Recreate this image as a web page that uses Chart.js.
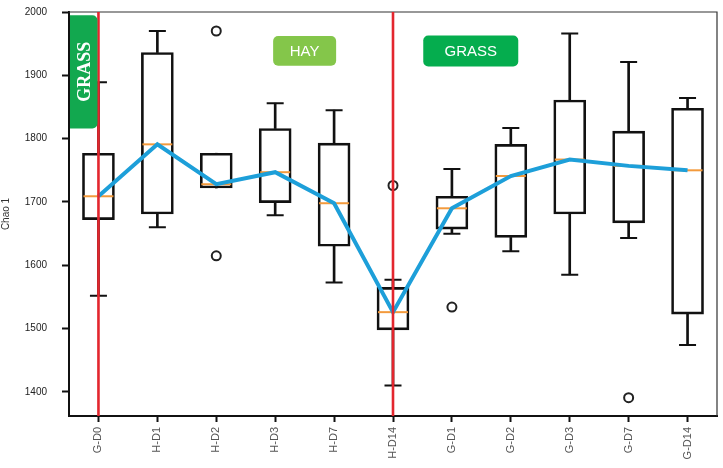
<!DOCTYPE html>
<html>
<head>
<meta charset="utf-8">
<script src="https://cdn.jsdelivr.net/npm/chart.js@4"></script>
<style>
  html, body { margin: 0; padding: 0; background: #fff; }
  #wrap { width: 723px; height: 468px; }
</style>
</head>
<body>
<div id="wrap"><canvas id="chao_chart"></canvas></div>
<script>
const samples = ['G-D0', 'H-D1', 'H-D2', 'H-D3', 'H-D7', 'H-D14', 'G-D1', 'G-D2', 'G-D3', 'G-D7', 'G-D14']
const whisker_low = [1552, 1660, 1722, 1679, 1573, 1410, 1650, 1622, 1585, 1643, 1474]
const box_low = [1672, 1681, 1722, 1699, 1630, 1498, 1657, 1644, 1681, 1667, 1523]
const medians = [1709, 1791, 1728, 1747, 1698, 1526, 1690, 1741, 1767, 1757, 1750]
const box_high = [1777, 1936, 1777, 1816, 1793, 1565, 1709, 1791, 1861, 1812, 1848]
const whisker_high = [1889, 1970, 1777, 1856, 1845, 1577, 1752, 1817, 1966, 1921, 1864]
const has_caps = [true, true, false, true, true, true, true, true, true, true, true]
const outlier_samples = ['H-D2', 'H-D2', 'H-D14', 'G-D1', 'G-D7']
const outlier_values = [1970, 1615, 1726, 1534, 1391]
const y_ticks = [1400, 1500, 1600, 1700, 1800, 1900, 2000]
const diet_switches = ['G-D0', 'H-D14']

const ctx = document.getElementById('chao_chart').getContext('2d')

// red lines where the diet changes, drawn on top
const switchLines = {
  id: 'switchLines',
  afterDatasetsDraw (chart) {
    const { ctx, chartArea, scales } = chart
    ctx.save()
    // thin frame on top and right
    ctx.strokeStyle = '#333'
    ctx.lineWidth = 1.2
    ctx.beginPath()
    ctx.moveTo(chartArea.left, chartArea.top)
    ctx.lineTo(chartArea.right, chartArea.top)
    ctx.lineTo(chartArea.right, chartArea.bottom)
    ctx.stroke()

    ctx.strokeStyle = '#e3262e'
    ctx.lineWidth = 2.6
    diet_switches.forEach(s => {
      const x = scales.x.getPixelForValue(samples.indexOf(s))
      ctx.beginPath()
      ctx.moveTo(x, chartArea.top)
      ctx.lineTo(x, chartArea.bottom)
      ctx.stroke()
    })
    ctx.restore()
  },
  afterDraw (chart) {
    const { ctx, chartArea, scales } = chart
    const x = scales.x
    const y = scales.y
    ctx.save()

    // vertical GRASS tag
    const gx0 = chartArea.left + 1
    const gx1 = x.getPixelForValue(0) - 1
    const gy0 = y.getPixelForValue(1995)
    const gy1 = y.getPixelForValue(1816)
    ctx.fillStyle = '#12a84f'
    ctx.beginPath()
    ctx.roundRect(gx0, gy0, gx1 - gx0, gy1 - gy0, [0, 5, 5, 0])
    ctx.fill()
    ctx.translate((gx0 + gx1) / 2 + 1, (gy0 + gy1) / 2)
    ctx.rotate(-Math.PI / 2)
    ctx.fillStyle = '#fff'
    ctx.font = "bold 18px 'Liberation Serif'"
    ctx.textAlign = 'center'
    ctx.textBaseline = 'middle'
    ctx.fillText('GRASS', 0, 1)
    ctx.setTransform(1, 0, 0, 1, 0, 0)

    const tag = (text, idx, w, top, bottom, color) => {
      const cx = x.getPixelForValue(idx)
      const t = y.getPixelForValue(top)
      const b = y.getPixelForValue(bottom)
      ctx.fillStyle = color
      ctx.beginPath()
      ctx.roundRect(cx - w / 2, t, w, b - t, 5)
      ctx.fill()
      ctx.fillStyle = '#fff'
      ctx.font = "15px 'Liberation Sans'"
      ctx.textAlign = 'center'
      ctx.textBaseline = 'middle'
      ctx.fillText(text, cx, (t + b) / 2 + 1)
    }
    tag('HAY', 3.5, 63, 1962, 1915, '#84c64a')
    tag('GRASS', 6.32, 95, 1963, 1914, '#05ad4e')
    ctx.restore()
  }
}

Chart.defaults.font.family = "'Liberation Sans', Arial, sans-serif"

new Chart(ctx, {
  type: 'bar',
  data: {
    labels: samples,
    datasets: [
      {
        type: 'line',
        label: 'median trend',
        data: medians,
        borderColor: '#1d9fd9',
        borderWidth: 4,
        pointRadius: 0,
        tension: 0,
        order: 0
      },
      {
        label: 'box',
        data: samples.map((s, i) => [box_low[i], box_high[i]]),
        backgroundColor: 'rgba(0,0,0,0)',
        borderColor: '#111',
        borderWidth: 2,
        borderSkipped: false,
        barThickness: 32,
        grouped: false,
        order: 2
      },
      {
        label: 'lower whisker',
        data: samples.map((s, i) => [whisker_low[i], box_low[i]]),
        backgroundColor: '#111',
        borderWidth: 0,
        barThickness: 2,
        grouped: false,
        order: 3
      },
      {
        label: 'upper whisker',
        data: samples.map((s, i) => [box_high[i], whisker_high[i]]),
        backgroundColor: '#111',
        borderWidth: 0,
        barThickness: 2,
        grouped: false,
        order: 3
      },
      {
        type: 'line',
        label: 'caps low',
        data: whisker_low.map((v, i) => (has_caps[i] ? v : null)),
        showLine: false,
        pointStyle: 'line',
        pointRadius: 8.5,
        pointBorderWidth: 2,
        borderColor: '#111',
        order: 1
      },
      {
        type: 'line',
        label: 'caps high',
        data: whisker_high.map((v, i) => (has_caps[i] ? v : null)),
        showLine: false,
        pointStyle: 'line',
        pointRadius: 8.5,
        pointBorderWidth: 2,
        borderColor: '#111',
        order: 1
      },
      {
        type: 'line',
        label: 'median',
        data: medians,
        showLine: false,
        pointStyle: 'line',
        pointRadius: 15,
        pointBorderWidth: 2,
        borderColor: '#f39a3c',
        order: 1
      },
      {
        type: 'line',
        label: 'outliers',
        data: outlier_samples.map((s, i) => ({ x: s, y: outlier_values[i] })),
        showLine: false,
        pointStyle: 'circle',
        pointRadius: 4.5,
        pointBorderWidth: 2,
        borderColor: '#222',
        backgroundColor: '#fff',
        order: 1
      }
    ]
  },
  options: {
    responsive: true,
    maintainAspectRatio: false,
    animation: false,
    layout: {
      autoPadding: false,
      padding: { top: 12, right: 6, left: 0, bottom: 0 }
    },
    plugins: {
      legend: { display: false },
      tooltip: { enabled: false }
    },
    scales: {
      x: {
        offset: true,
        grid: {
          offset: false,
          drawOnChartArea: false,
          tickLength: 6,
          tickWidth: 2,
          tickColor: '#111'
        },
        border: { color: '#111', width: 2 },
        ticks: {
          minRotation: 90,
          maxRotation: 90,
          padding: 5,
          color: '#555',
          font: { size: 11 }
        },
        afterFit: scale => {
          scale.height = 52
        }
      },
      y: {
        min: 1362,
        max: 2000,
        afterBuildTicks: axis => {
          axis.ticks = y_ticks.map(v => ({ value: v }))
        },
        grid: {
          drawOnChartArea: false,
          tickLength: 7,
          tickWidth: 2,
          tickColor: '#111'
        },
        border: { color: '#111', width: 2 },
        ticks: {
          padding: 15,
          color: '#222',
          font: { size: 10 },
          callback: value => String(value)
        },
        title: {
          display: true,
          text: 'Chao 1',
          color: '#333',
          font: { size: 10 },
          padding: { top: 0, bottom: 0 }
        },
        afterFit: scale => {
          scale.width = 69
          scale.paddingTop = 6
          scale.paddingBottom = 6
        }
      }
    }
  },
  plugins: [switchLines]
})
</script>
</body>
</html>
